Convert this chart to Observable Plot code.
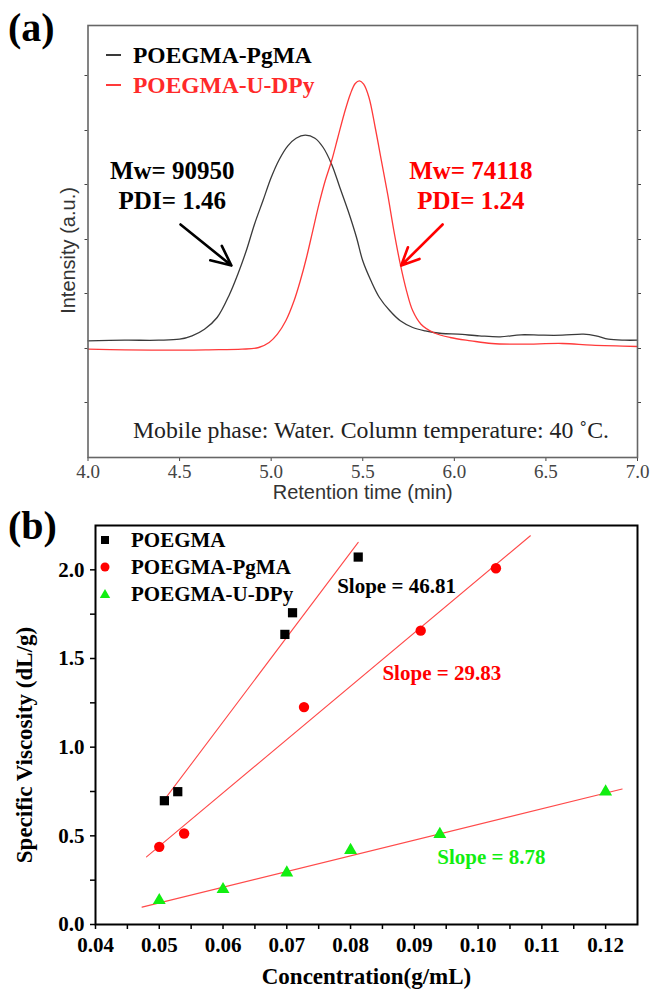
<!DOCTYPE html>
<html>
<head>
<meta charset="utf-8">
<script src="https://cdn.jsdelivr.net/npm/d3@7"></script>
<script src="https://cdn.jsdelivr.net/npm/@observablehq/plot@0.6"></script>
<style>
  body { margin: 0; background: #fff; }
  #wrap { position: relative; width: 653px; height: 995px; overflow: hidden; background: #fff; }
  .panel { position: absolute; left: 0; }
  .plabel { position: absolute; font-family: "Liberation Serif", "Times New Roman", serif; font-weight: bold; font-size: 40px; line-height: 1; }
  .leg { position: absolute; font-family: "Liberation Serif", "Times New Roman", serif; font-weight: bold; white-space: nowrap; line-height: 1; }
  .leg svg { position: absolute; overflow: visible; }
</style>
</head>
<body>
<div id="wrap">
  <div id="panelA" class="panel" style="top:0"></div>
  <div id="panelB" class="panel" style="top:505px"></div>
  <div class="plabel" style="left:8px;top:8px">(a)</div>
  <div class="plabel" style="left:8px;top:506px">(b)</div>
  <div id="legA"></div>
  <div id="legB"></div>
</div>
<script>
// ---------- Panel (a): GPC traces ----------
const gpcSeries = ["POEGMA-PgMA", "POEGMA-U-DPy"];
const gpcColors = ["#3a3a3a", "#ff3a3a"];
const gpcTimeBlack = [4.0, 4.2, 4.386, 4.5, 4.568, 4.636, 4.705, 4.773, 4.818, 4.864, 4.909, 4.955, 5.0, 5.045, 5.091, 5.136, 5.186, 5.239, 5.284, 5.33, 5.375, 5.42, 5.466, 5.5, 5.545, 5.591, 5.648, 5.705, 5.773, 5.841, 5.932, 6.02, 6.136, 6.25, 6.364, 6.477, 6.59, 6.705, 6.773, 6.841, 6.93, 7.0];
const gpcIntensityBlack = [116.7, 117.3, 117.3, 118.3, 121.7, 128.3, 140, 163.3, 183.3, 206.7, 233.3, 256.7, 280, 298.3, 311.7, 319.3, 322.3, 319.3, 310, 293.3, 270, 246.7, 220, 196.7, 176.7, 160, 146.7, 136.7, 130, 126.7, 124, 123.3, 121.7, 120.7, 122.7, 122.3, 122.3, 123.3, 121.7, 118.3, 117.3, 117.3];
const gpcTimeRed = [4.0, 4.2, 4.432, 4.659, 4.841, 4.932, 4.989, 5.034, 5.08, 5.125, 5.159, 5.193, 5.227, 5.261, 5.295, 5.33, 5.364, 5.398, 5.432, 5.459, 5.482, 5.505, 5.534, 5.568, 5.602, 5.636, 5.67, 5.705, 5.739, 5.773, 5.818, 5.886, 5.977, 6.091, 6.205, 6.364, 6.59, 6.75, 7.0];
const gpcIntensityRed = [108.3, 107.7, 107.3, 107.7, 108.3, 110, 115, 123.3, 136.7, 156.7, 176.7, 200, 226.7, 253.3, 276.7, 296.7, 320, 343.3, 363.3, 374, 376.7, 373.3, 360, 330, 296.7, 263.3, 226.7, 193.3, 166.7, 146.7, 133.3, 125, 120, 116.7, 114, 113.3, 114, 112.3, 111];
const gpcXTicks = [4.0, 4.5, 5.0, 5.5, 6.0, 6.5, 7.0];
const gpcYTicks = [55, 109, 164, 218, 273, 327, 382];
const gpcXLabel = "Retention time (min)";
const gpcYLabel = "Intensity (a.u.)";
const annotText = ["Mw= 90950", "PDI= 1.46", "Mw= 74118", "PDI= 1.24"];
const annotTime = [4.46, 4.46, 6.09, 6.09];
const annotIntensity = [287, 257, 287, 257];
const annotColor = ["#000000", "#000000", "#ff0000", "#ff0000"];
const arrowTime1 = [4.505, 5.936];
const arrowInt1 = [233, 233];
const arrowTime2 = [4.783, 5.71];
const arrowInt2 = [192, 192];
const arrowColor = ["#000000", "#ff0000"];
const noteText = ["Mobile phase: Water. Column temperature: 40 \u02DAC."];
const noteTime = [4.245];
const noteIntensity = [27];

// ---------- Panel (b): viscosity ----------
const viscSeries = ["POEGMA", "POEGMA-PgMA", "POEGMA-U-DPy"];
const viscColors = ["#000000", "#ff0000", "#11ee11"];
const concPOEGMA = [0.0508, 0.0529, 0.0697, 0.0709, 0.0812];
const viscPOEGMA = [0.698, 0.749, 1.636, 1.758, 2.072];
const concPgMA = [0.0500, 0.0539, 0.0727, 0.0910, 0.1028];
const viscPgMA = [0.438, 0.513, 1.226, 1.657, 2.009];
const concUDPy = [0.050, 0.060, 0.070, 0.080, 0.094, 0.120];
const viscUDPy = [0.136, 0.198, 0.292, 0.419, 0.509, 0.749];
const fitConcPOEGMA = [0.0509, 0.0812];
const fitViscPOEGMA = [0.708, 2.155];
const fitConcPgMA = [0.048, 0.1082];
const fitViscPgMA = [0.381, 2.192];
const fitConcUDPy = [0.0473, 0.1226];
const fitViscUDPy = [0.098, 0.764];
const slopeText = ["Slope = 46.81", "Slope = 29.83", "Slope = 8.78"];
const slopeConc = [0.0779, 0.085, 0.0936];
const slopeVisc = [1.909, 1.415, 0.381];
const viscXTicks = [0.04, 0.05, 0.06, 0.07, 0.08, 0.09, 0.10, 0.11, 0.12];
const viscXMinor = [0.045, 0.055, 0.065, 0.075, 0.085, 0.095, 0.105, 0.115];
const viscYTicks = [0.0, 0.5, 1.0, 1.5, 2.0];
const viscYMinor = [0.25, 0.75, 1.25, 1.75];
const viscXLabel = "Concentration(g/mL)";
const viscYLabel = "Specific Viscosity (dL/g)";

const SERIF = "Liberation Serif, Times New Roman, serif";
const SANS = "Liberation Sans, Arial, sans-serif";

// ---------- build panel (a) ----------
const gpcRows = [
  ...gpcTimeBlack.map((t, i) => ({t, v: gpcIntensityBlack[i], s: gpcSeries[0]})),
  ...gpcTimeRed.map((t, i) => ({t, v: gpcIntensityRed[i], s: gpcSeries[1]}))
];
const annots = annotText.map((text, i) => ({text, t: annotTime[i], v: annotIntensity[i], c: annotColor[i]}));
const arrows = arrowTime1.map((t1, i) => ({t1, v1: arrowInt1[i], t2: arrowTime2[i], v2: arrowInt2[i], c: arrowColor[i]}));
const notes = noteText.map((text, i) => ({text, t: noteTime[i], v: noteIntensity[i]}));

const plotA = Plot.plot({
  width: 653, height: 505,
  marginLeft: 87.5, marginRight: 16, marginTop: 25, marginBottom: 48,
  style: {background: "white", color: "#444"},
  x: {domain: [4, 7], label: null},
  y: {domain: [0, 432], label: null},
  color: {domain: gpcSeries, range: gpcColors},
  marks: [
    Plot.line(gpcRows, {x: "t", y: "v", z: "s", stroke: "s", strokeWidth: 1.3, curve: "catmull-rom"}),
    Plot.text(annots, {x: "t", y: "v", text: "text", fill: "c", fontFamily: SERIF, fontWeight: "bold", fontSize: 25}),
    Plot.arrow(arrows, {x1: "t1", y1: "v1", x2: "t2", y2: "v2", stroke: "c", strokeWidth: 2.6, headLength: 15, headAngle: 50}),
    Plot.text(notes, {x: "t", y: "v", text: "text", textAnchor: "start", fill: "#222", fontFamily: SERIF, fontSize: 23.8}),
    Plot.axisX(gpcXTicks, {tickSize: 4, tickPadding: 3, tickFormat: d3.format(".1f"), fontFamily: SERIF, fontSize: 19, label: null}),
    Plot.axisY(gpcYTicks, {tickSize: 3, tickFormat: () => "", label: null}),
    Plot.axisY(gpcYTicks, {anchor: "right", tickSize: 3, tickFormat: () => "", label: null}),
    Plot.text([gpcXLabel], {text: d => d, frameAnchor: "bottom", dy: 41, fontFamily: SANS, fontSize: 20, fill: "#333"}),
    Plot.text([gpcYLabel], {text: d => d, frameAnchor: "left", textAnchor: "middle", rotate: -90, dx: -19, dy: 9, fontFamily: SANS, fontSize: 20, fill: "#333"}),
    Plot.frame({stroke: "#666", strokeWidth: 1.6})
  ]
});
document.getElementById("panelA").append(plotA);

// ---------- build panel (b) ----------
const pts = [
  ...concPOEGMA.map((x, i) => ({x, y: viscPOEGMA[i], s: viscSeries[0]})),
  ...concPgMA.map((x, i) => ({x, y: viscPgMA[i], s: viscSeries[1]})),
  ...concUDPy.map((x, i) => ({x, y: viscUDPy[i], s: viscSeries[2]}))
];
const fits = [
  ...fitConcPOEGMA.map((x, i) => ({x, y: fitViscPOEGMA[i], s: viscSeries[0]})),
  ...fitConcPgMA.map((x, i) => ({x, y: fitViscPgMA[i], s: viscSeries[1]})),
  ...fitConcUDPy.map((x, i) => ({x, y: fitViscUDPy[i], s: viscSeries[2]}))
];
const slopes = slopeText.map((text, i) => ({text, x: slopeConc[i], y: slopeVisc[i], c: viscColors[i]}));

const plotB = Plot.plot({
  width: 653, height: 490,
  marginLeft: 95, marginRight: 16, marginTop: 20, marginBottom: 71,
  style: {background: "white", color: "#000"},
  x: {domain: [0.04, 0.125], label: null},
  y: {domain: [0, 2.25], label: null},
  marks: [
    Plot.line(fits, {x: "x", y: "y", z: "s", stroke: "#ff4a4a", strokeWidth: 1.1}),
    Plot.dot(pts.filter(d => d.s === viscSeries[0]), {x: "x", y: "y", symbol: "square", fill: viscColors[0], r: 5.2}),
    Plot.dot(pts.filter(d => d.s === viscSeries[1]), {x: "x", y: "y", symbol: "circle", fill: viscColors[1], r: 5.2}),
    Plot.dot(pts.filter(d => d.s === viscSeries[2]), {x: "x", y: "y", symbol: "triangle", fill: viscColors[2], r: 4.8}),
    Plot.text(slopes, {x: "x", y: "y", text: "text", fill: "c", textAnchor: "start", fontFamily: SERIF, fontWeight: "bold", fontSize: 21}),
    Plot.axisX(viscXTicks, {tickSize: 5, tickPadding: 8, tickFormat: d3.format(".2f"), fontFamily: SERIF, fontWeight: "bold", fontSize: 21, strokeWidth: 1.5, label: null}),
    Plot.axisX(viscXMinor, {tickSize: 5, tickFormat: () => "", strokeWidth: 1.5, label: null}),
    Plot.axisY(viscYTicks, {tickSize: 5, tickPadding: 6, tickFormat: d3.format(".1f"), fontFamily: SERIF, fontWeight: "bold", fontSize: 21, strokeWidth: 1.5, label: null}),
    Plot.axisY(viscYMinor, {tickSize: 5, tickFormat: () => "", strokeWidth: 1.5, label: null}),
    Plot.text([viscXLabel], {text: d => d, frameAnchor: "bottom", dy: 59, fontFamily: SERIF, fontWeight: "bold", fontSize: 23, fill: "#000"}),
    Plot.text([viscYLabel], {text: d => d, frameAnchor: "left", textAnchor: "middle", rotate: -90, dx: -71, dy: 20, fontFamily: SERIF, fontWeight: "bold", fontSize: 23, fill: "#000"}),
    Plot.frame({stroke: "#000", strokeWidth: 2})
  ]
});
document.getElementById("panelB").append(plotB);

// ---------- legends (HTML overlays) ----------
const legA = document.getElementById("legA");
gpcSeries.forEach((name, i) => {
  const cy = [55, 85][i];
  const row = document.createElement("div");
  row.className = "leg";
  row.style.cssText = `left:106px;top:${cy - 12}px;height:24px;font-size:23.5px;color:${i ? "#ff2a2a" : "#000"}`;
  row.innerHTML = `<svg width="16" height="24" style="left:0;top:0"><line x1="0" x2="15" y1="12" y2="12" stroke="${gpcColors[i]}" stroke-width="2"/></svg><span style="position:absolute;left:27px;top:1px">${name}</span>`;
  legA.append(row);
});
const legB = document.getElementById("legB");
const symSvg = [
  c => `<rect x="-4" y="-4" width="8" height="8" fill="${c}"/>`,
  c => `<circle r="4.5" fill="${c}"/>`,
  c => `<path d="M0,-5 L5.2,4 L-5.2,4 Z" fill="${c}"/>`
];
viscSeries.forEach((name, i) => {
  const cy = [540, 567, 594][i];
  const row = document.createElement("div");
  row.className = "leg";
  row.style.cssText = `left:94px;top:${cy - 12}px;height:24px;font-size:21px;color:#000`;
  row.innerHTML = `<svg width="24" height="24" style="left:0;top:0"><g transform="translate(11,12)">${symSvg[i](viscColors[i])}</g></svg><span style="position:absolute;left:37px;top:2px">${name}</span>`;
  legB.append(row);
});
</script>
</body>
</html>
